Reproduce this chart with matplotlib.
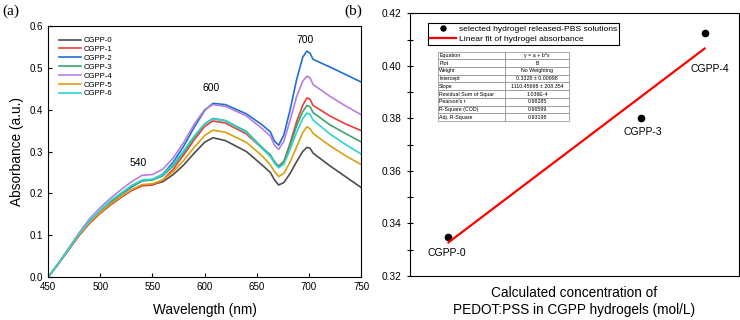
import matplotlib.pyplot as plt
from matplotlib.ticker import MultipleLocator

plt.rcParams['font.family'] = ['Liberation Sans', 'DejaVu Sans']

# ---- panel (a) data: UV-vis spectra ----
wl = [450, 460, 470, 480, 490, 500, 510, 520, 530, 540, 550, 560, 570, 580, 590,
      600, 608, 620, 640, 655, 663, 667, 671, 676, 682, 688, 694, 698, 701, 704,
      720, 735, 750]

cgpp0 = [0.000, 0.033, 0.068, 0.102, 0.130, 0.153, 0.173, 0.191, 0.207, 0.219, 0.221,
         0.228, 0.245, 0.268, 0.296, 0.322, 0.333, 0.326, 0.300, 0.268, 0.250, 0.232,
         0.220, 0.226, 0.248, 0.275, 0.300, 0.310, 0.308, 0.296, 0.266, 0.240, 0.214]
cgpp1 = [0.000, 0.032, 0.066, 0.100, 0.129, 0.153, 0.173, 0.191, 0.207, 0.218, 0.220,
         0.232, 0.258, 0.292, 0.328, 0.360, 0.373, 0.368, 0.342, 0.308, 0.290, 0.275,
         0.265, 0.277, 0.320, 0.370, 0.410, 0.428, 0.425, 0.410, 0.385, 0.366, 0.350]
cgpp2 = [0.000, 0.033, 0.068, 0.103, 0.133, 0.158, 0.179, 0.198, 0.215, 0.230, 0.233,
         0.246, 0.275, 0.313, 0.358, 0.398, 0.415, 0.412, 0.390, 0.364, 0.347, 0.325,
         0.315, 0.340, 0.400, 0.470, 0.525, 0.540, 0.535, 0.520, 0.502, 0.484, 0.466]
cgpp3 = [0.000, 0.033, 0.068, 0.103, 0.133, 0.158, 0.180, 0.199, 0.217, 0.230, 0.232,
         0.242, 0.266, 0.298, 0.334, 0.366, 0.379, 0.374, 0.348, 0.310, 0.292, 0.275,
         0.263, 0.275, 0.315, 0.360, 0.395, 0.410, 0.407, 0.393, 0.364, 0.343, 0.323]
cgpp4 = [0.000, 0.034, 0.070, 0.107, 0.140, 0.166, 0.189, 0.209, 0.228, 0.243, 0.245,
         0.258, 0.285, 0.322, 0.365, 0.400, 0.412, 0.408, 0.385, 0.355, 0.337, 0.315,
         0.305, 0.325, 0.375, 0.430, 0.468, 0.480, 0.476, 0.460, 0.432, 0.409, 0.388]
cgpp5 = [0.000, 0.033, 0.068, 0.102, 0.131, 0.155, 0.175, 0.193, 0.209, 0.221, 0.223,
         0.232, 0.252, 0.279, 0.310, 0.338, 0.351, 0.346, 0.322, 0.290, 0.268, 0.252,
         0.240, 0.248, 0.275, 0.310, 0.345, 0.359, 0.355, 0.343, 0.314, 0.290, 0.269]
cgpp6 = [0.000, 0.033, 0.069, 0.104, 0.135, 0.160, 0.183, 0.201, 0.219, 0.232, 0.234,
         0.245, 0.270, 0.302, 0.337, 0.366, 0.378, 0.373, 0.346, 0.308, 0.288, 0.272,
         0.261, 0.270, 0.305, 0.345, 0.378, 0.392, 0.389, 0.375, 0.342, 0.317, 0.294]

names = ['CGPP-0', 'CGPP-1', 'CGPP-2', 'CGPP-3', 'CGPP-4', 'CGPP-5', 'CGPP-6']
spectra = [cgpp0, cgpp1, cgpp2, cgpp3, cgpp4, cgpp5, cgpp6]
colors = ['#4d4d4d', '#ef3b3b', '#1f6fd6', '#3aa66a', '#b77ee0', '#d9a012', '#2ed3d3']

peak_labels = ['540', '600', '700']
peak_x = [536, 606, 696]
peak_y = [0.272, 0.452, 0.567]

# ---- panel (b) data: absorbance vs concentration ----
conc = [0.0, 5.0e-5, 6.65e-5]
absorb = [0.335, 0.380, 0.4125]
sample_names = ['CGPP-0', 'CGPP-3', 'CGPP-4']
label_offsets = [(-1, -12), (1, -10), (4, -26)]
fit_a = 0.3328
fit_b = 1110.45698
fit_x = [0.0, 6.65e-5]

table_rows = [
    ['Equation', 'y = a + b*x'],
    ['Plot', 'B'],
    ['Weight', 'No Weighting'],
    ['Intercept', '0.3328 \u00b1 0.00998'],
    ['Slope', '1110.45698 \u00b1 208.354'],
    ['Residual Sum of Squar', '1.036E-4'],
    ["Pearson's r", '0.98285'],
    ['R-Square (COD)', '0.96599'],
    ['Adj. R-Square', '0.93198'],
]

fig = plt.figure(figsize=(7.4, 3.2), dpi=100)

# ---------------- (a) ----------------
ax1 = fig.add_axes([0.065, 0.134, 0.423, 0.785])
for name, s, c in zip(names, spectra, colors):
    ax1.plot(wl, s, color=c, lw=1.2, label=name)
ax1.set_xlim(450, 750)
ax1.set_ylim(0, 0.6)
ax1.xaxis.set_major_locator(MultipleLocator(50))
ax1.yaxis.set_major_locator(MultipleLocator(0.1))
ax1.yaxis.set_major_formatter(plt.FormatStrFormatter('%.1f'))
ax1.tick_params(direction='in', labelsize=7, length=3, width=0.8)
ax1.set_xlabel('Wavelength (nm)', fontsize=9.8, labelpad=8)
ax1.set_ylabel('Absorbance (a.u.)', fontsize=9.8, labelpad=4)
for sp in ax1.spines.values():
    sp.set_linewidth(0.8)
for t, x, y in zip(peak_labels, peak_x, peak_y):
    ax1.text(x, y, t, fontsize=7.5, ha='center', va='center')
ax1.legend(loc='upper left', bbox_to_anchor=(0.02, 0.975), frameon=False,
           fontsize=5.6, handlelength=2.8, handletextpad=0.3, labelspacing=0.18,
           borderaxespad=0.2)

# ---------------- (b) ----------------
ax2 = fig.add_axes([0.554, 0.1375, 0.444, 0.8205])
ax2.plot(conc, absorb, 'o', color='black', ms=4.5,
         label='selected hydrogel released-PBS solutions')
ax2.plot(fit_x, [fit_a + fit_b * x for x in fit_x], color='red', lw=1.6,
         label='Linear fit of hydrogel absorbance')
for n, x, y, off in zip(sample_names, conc, absorb, label_offsets):
    ax2.annotate(n, (x, y), xytext=off, textcoords='offset points',
                 ha='center', va='center', fontsize=7.5)
ax2.set_xlim(-1.0e-5, 7.53e-5)
ax2.set_ylim(0.32, 0.42)
ax2.set_xticks([])
ax2.yaxis.set_major_locator(MultipleLocator(0.02))
ax2.yaxis.set_minor_locator(MultipleLocator(0.01))
ax2.yaxis.set_major_formatter(plt.FormatStrFormatter('%.2f'))
ax2.tick_params(axis='y', which='both', direction='inout', length=5,
                width=0.8, labelsize=7.3)
for sp in ax2.spines.values():
    sp.set_linewidth(0.8)
ax2.set_xlabel('Calculated concentration of\nPEDOT:PSS in CGPP hydrogels (mol/L)',
               fontsize=9.8, labelpad=7, linespacing=1.3)
leg = ax2.legend(loc='upper left', bbox_to_anchor=(0.055, 0.963), fontsize=6.1,
                 fancybox=False, edgecolor='black', framealpha=1,
                 borderpad=0.25, handlelength=3.0, handletextpad=0.4,
                 labelspacing=0.2, borderaxespad=0, markerscale=0.8)
leg.get_frame().set_linewidth(0.8)

tab = ax2.table(cellText=table_rows, cellLoc='left',
                bbox=[0.085, 0.59, 0.40, 0.265])
tab.auto_set_font_size(False)
tab.set_fontsize(3.8)
for (r, c), cell in tab.get_celld().items():
    cell.set_edgecolor('#888888')
    cell.set_linewidth(0.5)
    cell.PAD = 0.02
    if c == 1:
        cell.get_text().set_ha('center')
        cell.set_width(0.49)
    else:
        cell.set_width(0.51)

fig.text(0.003, 0.985, '(a)', fontsize=11, family='Liberation Serif',
         ha='left', va='top')
fig.text(0.466, 0.985, '(b)', fontsize=11, family='Liberation Serif',
         ha='left', va='top')

fig.savefig('out.png', dpi=100)
